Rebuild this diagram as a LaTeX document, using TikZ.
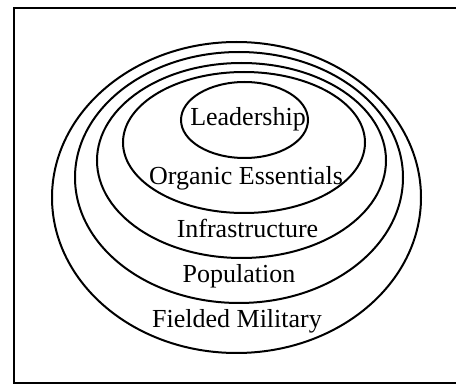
\documentclass[tikz,border=0pt]{standalone}
\usepackage{fontspec}
\setmainfont{Liberation Serif}
\begin{document}
\begin{tikzpicture}[x=1pt,y=-1pt,
  ring/.style={line width=2pt},
  frame/.style={line width=1.6pt},
  lbl/.style={font=\fontsize{26}{28}\selectfont, anchor=base, inner sep=0pt}]
\useasboundingbox (0,0) rectangle (456,385);
% open frame (top, left, bottom)
\draw[frame] (456,8) -- (14,8) -- (14,383) -- (456,383);
% nested rings, outermost first
\draw[ring] (236.5,197.5) ellipse [x radius=184.5, y radius=155.5];
\draw[ring] (239,177.5) ellipse [x radius=164, y radius=125.5];
\draw[ring] (241.5,160.5) ellipse [x radius=144.5, y radius=97.5];
\draw[ring] (244,142.5) ellipse [x radius=121, y radius=70.5];
\draw[ring] (244.5,120) ellipse [x radius=63.5, y radius=38];
% ring labels
\node[lbl] (lead) at (248,126) {Leadership};
\node[lbl] (org) at (246,185) {Organic Essentials};
\node[lbl] (infra) at (247.5,238) {Infrastructure};
\node[lbl] (pop) at (239,283) {Population};
\node[lbl] (mil) at (237,327) {Fielded Military};
\end{tikzpicture}
\end{document}
